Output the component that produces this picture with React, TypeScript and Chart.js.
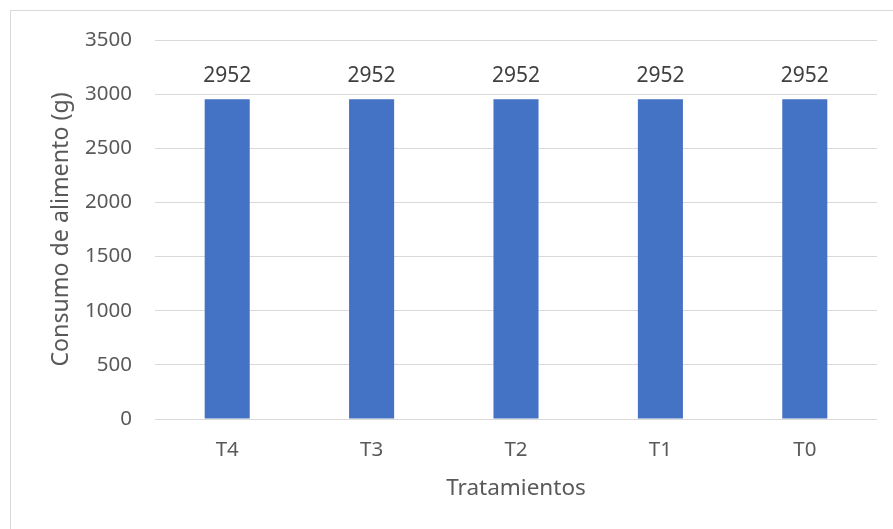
import React, { useEffect, useRef } from "react";
import { Chart, registerables } from "chart.js";

Chart.register(...registerables);

const categories = ["T4", "T3", "T2", "T1", "T0"];
const consumo = [2952, 2952, 2952, 2952, 2952];
const yMin = 0;
const yMax = 3500;
const yStep = 500;

const FONT = "'Noto Sans', 'Open Sans', sans-serif";

const frame = {
  id: "frame",
  beforeDraw(chart: any) {
    const ctx = chart.ctx;
    ctx.save();
    ctx.fillStyle = "#ffffff";
    ctx.fillRect(0, 0, chart.width, chart.height);
    ctx.strokeStyle = "#d9d9d9";
    ctx.lineWidth = 1;
    ctx.strokeRect(10.5, 10.5, chart.width + 20, chart.height + 20);
    ctx.restore();
  },
};

const valueLabels = {
  id: "valueLabels",
  afterDatasetsDraw(chart: any) {
    const ctx = chart.ctx;
    ctx.save();
    ctx.font = `21px ${FONT}`;
    ctx.fillStyle = "#404040";
    ctx.textAlign = "center";
    ctx.textBaseline = "alphabetic";
    chart.data.datasets.forEach((ds: any, di: number) => {
      const meta = chart.getDatasetMeta(di);
      meta.data.forEach((bar: any, i: number) => {
        ctx.fillText(String(ds.data[i]), bar.x, bar.y - 17);
      });
    });
    ctx.restore();
  },
};

export default function App() {
  const ref = useRef<HTMLCanvasElement>(null);
  useEffect(() => {
    document.body.style.margin = "0";
    const chart = new Chart(ref.current!, {
      type: "bar",
      data: {
        labels: categories,
        datasets: [
          {
            data: consumo,
            backgroundColor: "#4472C4",
            borderWidth: 0,
            categoryPercentage: 1,
            barPercentage: 0.312,
          },
        ],
      },
      options: {
        animation: false,
        responsive: false,
        layout: { padding: { left: 0, top: 40, right: 16, bottom: 0 } },
        plugins: { legend: { display: false }, tooltip: { enabled: false } },
        scales: {
          x: {
            grid: { display: false, drawTicks: false },
            border: { display: false },
            ticks: { color: "#595959", font: { family: FONT, size: 20.5 }, padding: 19 },
            title: {
              display: true,
              text: "Tratamientos",
              color: "#595959",
              font: { family: FONT, size: 22.5 },
              padding: { top: 0, bottom: 27 },
            },
            afterFit(scale: any) {
              scale.height = 110;
            },
          },
          y: {
            min: yMin,
            max: yMax,
            ticks: {
              stepSize: yStep,
              color: "#595959",
              font: { family: FONT, size: 20.5 },
              padding: 23,
              callback: (v: any) => String(v),
            },
            grid: { color: "#d9d9d9", drawTicks: false, lineWidth: 1 },
            border: { display: false },
            title: {
              display: true,
              text: "Consumo de alimento (g)",
              color: "#595959",
              font: { family: FONT, size: 23.2 },
              padding: { top: 47, bottom: 0 },
            },
            afterFit(scale: any) {
              scale.width = 155;
            },
          },
        },
      },
      plugins: [frame, valueLabels],
    });
    return () => chart.destroy();
  }, []);
  return (
    <div style={{ position: "absolute", left: 0, top: 0, width: 893, height: 529 }}>
      <canvas ref={ref} width={893} height={529} />
    </div>
  );
}
